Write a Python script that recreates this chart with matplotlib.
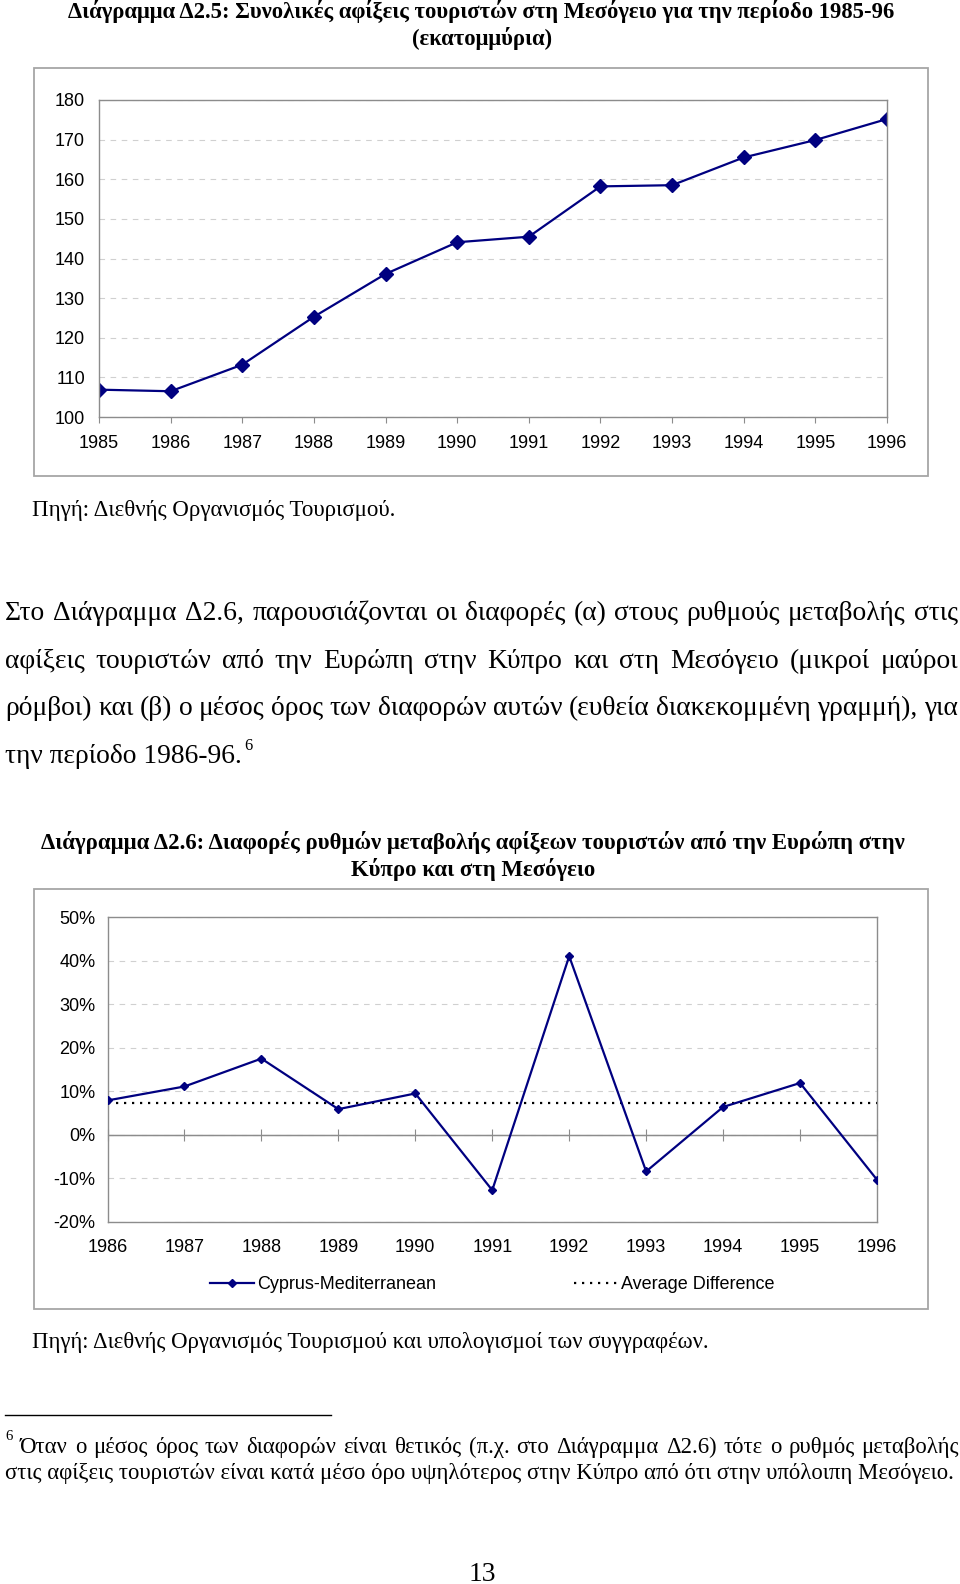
import matplotlib
matplotlib.use("Agg")
import matplotlib.pyplot as plt
from matplotlib.patches import Rectangle
from matplotlib.lines import Line2D
from matplotlib.ticker import FuncFormatter

# chart D2.5: total tourist arrivals in the Mediterranean (millions)
years_a = [1985, 1986, 1987, 1988, 1989, 1990, 1991, 1992, 1993, 1994, 1995, 1996]
arrivals = [106.9, 106.5, 113.2, 125.3, 136.1, 144.1, 145.5, 158.2, 158.5, 165.5, 169.9, 175.2]

# chart D2.6: growth-rate differences Cyprus - Mediterranean (%)
years_b = [1986, 1987, 1988, 1989, 1990, 1991, 1992, 1993, 1994, 1995, 1996]
diff_pct = [7.9, 11.1, 17.5, 5.9, 9.5, -12.7, 41.0, -8.4, 6.4, 11.9, -10.3]
avg_diff = 7.3

W, H = 960, 1584
SERIF = "Liberation Serif"
SANS = "Liberation Sans"
NAVY = "#000080"
GRAY = "#8c8c8c"
TICK = 13

fig = plt.figure(figsize=(W / 100, H / 100), dpi=100)
r = fig.canvas.get_renderer()


def px(x):
    return x / W


def py(y):
    return 1 - y / H


def fit(s, x0, x1, y, weight="normal", ha="left"):
    # size the text so it spans x0..x1 pixels, baseline at y
    t = fig.text(px(x0), py(y), s, fontsize=10, family=SERIF, weight=weight, va="baseline")
    w = t.get_window_extent(r).width
    t.set_fontsize(10 * (x1 - x0) / w)
    if ha == "center":
        t.set_ha("center")
        t.set_x(px((x0 + x1) / 2))
    return t.get_fontsize()


def put(s, x, y, size, weight="normal", ha="left"):
    return fig.text(px(x), py(y), s, fontsize=size, family=SERIF, weight=weight, va="baseline", ha=ha)


def justify(line, x0, x1, y, size):
    words = line.split()
    ts = [fig.text(0, py(y), w, fontsize=size, family=SERIF, va="baseline") for w in words]
    ws = [t.get_window_extent(r).width for t in ts]
    gap = (x1 - x0 - sum(ws)) / (len(ws) - 1)
    x = x0
    for t, w in zip(ts, ws):
        t.set_x(px(x))
        x += w + gap


def frame(x0, y0, x1, y1):
    fig.patches.append(Rectangle((px(x0), py(y1)), px(x1) - px(x0), py(y0) - py(y1),
                                 transform=fig.transFigure, fill=False, ec="#a6a6a6", lw=1.3))


def style(ax):
    for s in ax.spines.values():
        s.set_color(GRAY)
        s.set_linewidth(1.0)
    ax.grid(axis="y", color="#d0d0d0", ls=(0, (5, 5)), lw=0.8)
    ax.set_axisbelow(True)
    ax.tick_params(labelsize=TICK, colors="black")
    for lab in ax.get_xticklabels() + ax.get_yticklabels():
        lab.set_family(SANS)


# ---------- chart D2.5 ----------
fit("Διάγραμμα Δ2.5: Συνολικές αφίξεις τουριστών στη Μεσόγειο για την περίοδο 1985-96",
    67, 896, 18, weight="bold", ha="center")
tsize = fig.texts[-1].get_fontsize()
put("(εκατομμύρια)", 482, 45, tsize, weight="bold", ha="center")

frame(34, 68, 928, 476)
ax1 = fig.add_axes([px(99), py(417), px(887) - px(99), py(100) - py(417)])
ax1.plot(years_a, arrivals, color=NAVY, lw=1.6, marker="D", ms=7)
ax1.set_xlim(1985, 1996)
ax1.set_ylim(100, 180)
ax1.set_yticks(range(100, 181, 10))
ax1.set_xticks(years_a)
style(ax1)
ax1.tick_params(axis="y", length=0, pad=10)
ax1.tick_params(axis="x", length=4, color=GRAY, pad=9)

fit("Πηγή: Διεθνής Οργανισμός Τουρισμού.", 32, 395, 516)

# ---------- body paragraph ----------
bsize = fit("την περίοδο 1986-96.", 5, 234, 763) * 1.035
fig.texts[-1].set_fontsize(bsize)
justify("Στο Διάγραμμα Δ2.6, παρουσιάζονται οι διαφορές (α) στους ρυθμούς μεταβολής στις", 5, 958, 620, bsize)
justify("αφίξεις τουριστών από την Ευρώπη στην Κύπρο και στη Μεσόγειο (μικροί μαύροι", 5, 958, 668, bsize)
justify("ρόμβοι) και (β) ο μέσος όρος των διαφορών αυτών (ευθεία διακεκομμένη γραμμή), για", 5, 958, 715, bsize)
put("6", 244, 750, bsize * 0.6)

# ---------- chart D2.6 ----------
fit("Διάγραμμα Δ2.6: Διαφορές ρυθμών μεταβολής αφίξεων τουριστών από την Ευρώπη στην",
    40, 905, 849, weight="bold", ha="center")
t2size = fig.texts[-1].get_fontsize()
put("Κύπρο και στη Μεσόγειο", 473, 876, t2size, weight="bold", ha="center")

frame(34, 889, 928, 1309)
ax2 = fig.add_axes([px(107.5), py(1222), px(877) - px(107.5), py(917) - py(1222)])
ax2.plot(years_b, diff_pct, color=NAVY, lw=1.6, marker="D", ms=4,
         label="Cyprus-Mediterranean", zorder=3)
ax2.axhline(avg_diff, color="black", ls=(0, (1, 2.6)), lw=1.6, label="Average Difference", zorder=2)
ax2.axhline(0, color=GRAY, lw=1.0, zorder=1)
ax2.set_xlim(1986, 1996)
ax2.set_ylim(-20, 50)
ax2.set_yticks(range(-20, 51, 10))
ax2.yaxis.set_major_formatter(FuncFormatter(lambda v, p: f"{v:.0f}%"))
ax2.set_xticks(years_b)
style(ax2)
ax2.tick_params(axis="y", length=0, pad=8.5)
ax2.tick_params(axis="x", length=0, pad=12)

# category axis crossing at 0%
zero = ax2.secondary_xaxis(20 / 70)
zero.set_xticks(years_b)
zero.tick_params(direction="inout", length=9, color=GRAY, labelbottom=False)
zero.spines["bottom"].set_color(GRAY)

leg = ax2.legend(ncol=2, loc="center", bbox_to_anchor=(0.5, -0.205), frameon=False,
                 handlelength=2.4, handletextpad=0.2, columnspacing=7.6,
                 prop={"family": SANS, "size": TICK})

fit("Πηγή: Διεθνής Οργανισμός Τουρισμού και υπολογισμοί των συγγραφέων.", 32, 711, 1348)

# ---------- footnote ----------
fig.add_artist(Line2D([px(5), px(331)], [py(1415), py(1415)], color="black", lw=1.0))
fsize = fit("στις αφίξεις τουριστών είναι κατά μέσο όρο υψηλότερος στην Κύπρο από ότι στην υπόλοιπη Μεσόγειο.",
            5, 954, 1479)
put("6", 5, 1440, fsize * 0.65)
justify("Όταν ο μέσος όρος των διαφορών είναι θετικός (π.χ. στο Διάγραμμα Δ2.6) τότε ο ρυθμός μεταβολής",
        20, 959, 1453, fsize)

put("13", 482, 1581, bsize, ha="center")

fig.savefig("out.png", dpi=100)
